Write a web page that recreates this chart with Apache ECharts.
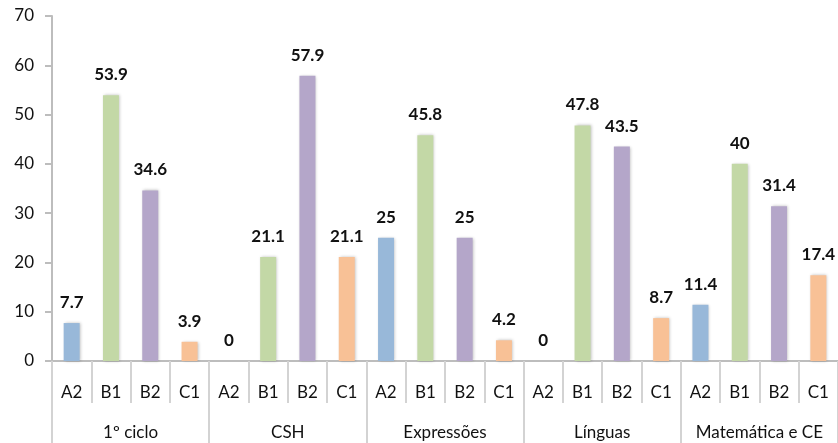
<!DOCTYPE html>
<html>
<head>
<meta charset="utf-8">
<script src="https://cdn.jsdelivr.net/npm/echarts@6/dist/echarts.min.js"></script>
<style>
  html, body { margin: 0; padding: 0; background: #fff; }
  #chart { width: 838px; height: 443px; }
</style>
</head>
<body>
<div id="chart"></div>
<script>
  // chart data
  var groups = ['1º ciclo', 'CSH', 'Expressões', 'Línguas', 'Matemática e CE']
  var levels = ['A2', 'B1', 'B2', 'C1']
  var values1Ciclo = [7.7, 53.9, 34.6, 3.9]
  var valuesCSH = [0, 21.1, 57.9, 21.1]
  var valuesExpressoes = [25, 45.8, 25, 4.2]
  var valuesLinguas = [0, 47.8, 43.5, 8.7]
  var valuesMatematica = [11.4, 40, 31.4, 17.4]
  var yTicks = [0, 10, 20, 30, 40, 50, 60, 70]

  var levelColors = ['#98b8d9', '#c3d8a6', '#b4a6c9', '#f8c196']
  var groupValues = [values1Ciclo, valuesCSH, valuesExpressoes, valuesLinguas, valuesMatematica]

  var categories = []
  var barData = []
  groupValues.forEach(function (vals) {
    vals.forEach(function (v, i) {
      categories.push(levels[i])
      barData.push({ value: v, itemStyle: { color: levelColors[i] } })
    })
  })

  var font = 'Lato, "Open Sans", sans-serif'
  var chart = echarts.init(document.getElementById('chart'))

  chart.setOption({
    animation: false,
    grid: { left: 52, right: -6, top: 16, bottom: 82 },
    xAxis: [
      {
        type: 'category',
        data: categories,
        axisLine: { lineStyle: { color: '#bdbdbd', width: 2 } },
        axisTick: { show: true, length: 42, lineStyle: { color: '#d3d3d3', width: 2 } },
        axisLabel: { margin: 23, fontSize: 17, color: '#111', fontFamily: font, interval: 0 }
      },
      {
        type: 'category',
        position: 'bottom',
        data: groups,
        axisLine: { show: false },
        axisTick: { show: true, length: 82, lineStyle: { color: '#d3d3d3', width: 2 } },
        axisLabel: { margin: 63, fontSize: 17, color: '#111', fontFamily: font, interval: 0 }
      }
    ],
    yAxis: {
      type: 'value',
      min: yTicks[0],
      max: yTicks[yTicks.length - 1],
      interval: 10,
      splitLine: { show: false },
      axisLine: { show: true, lineStyle: { color: '#bdbdbd', width: 2 } },
      axisTick: { show: true, length: 7, lineStyle: { color: '#bdbdbd', width: 2 } },
      axisLabel: { margin: 18, fontSize: 17, color: '#111', fontFamily: font }
    },
    series: [
      {
        type: 'bar',
        xAxisIndex: 0,
        data: barData,
        barWidth: 16,
        itemStyle: {
          shadowBlur: 3,
          shadowColor: 'rgba(0, 0, 0, 0.25)',
          shadowOffsetX: 1,
          shadowOffsetY: 0
        },
        label: {
          show: true,
          position: 'top',
          distance: 12,
          fontSize: 17,
          fontWeight: 'bold',
          color: '#111',
          fontFamily: font
        }
      }
    ]
  })
</script>
</body>
</html>
